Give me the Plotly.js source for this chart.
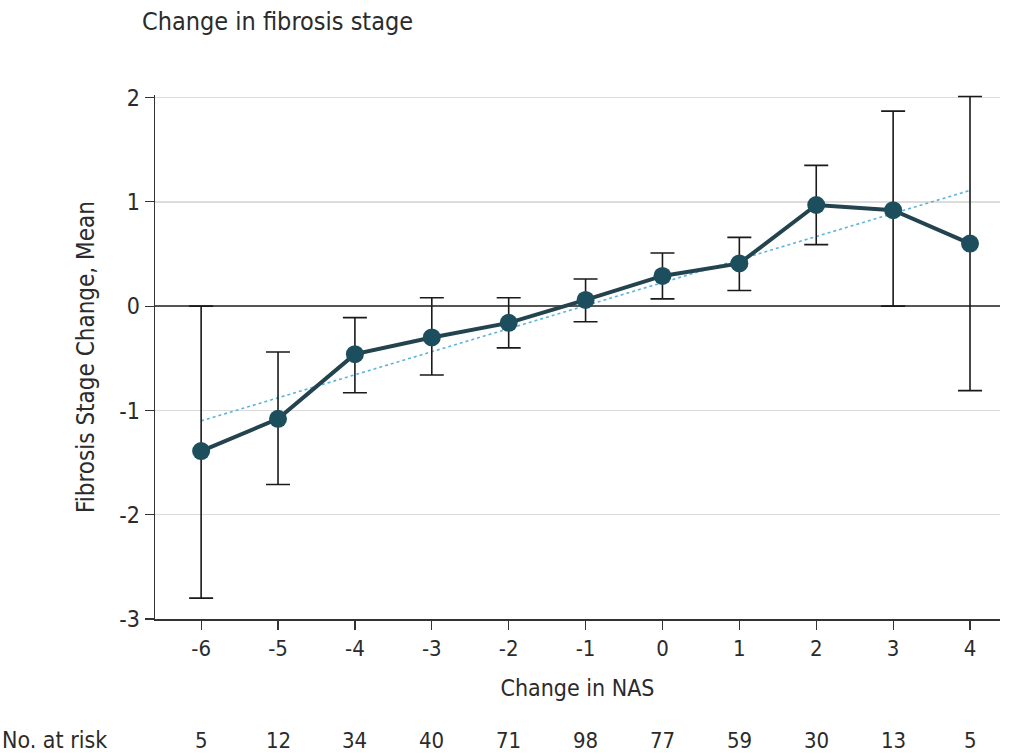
<!DOCTYPE html>
<html>
<head>
<meta charset="utf-8">
<script src="https://cdn.plot.ly/plotly-3.0.1.min.js"></script>
<style>
  html, body { margin: 0; padding: 0; background: #fff; }
  #chart { width: 1025px; height: 754px; }
</style>
</head>
<body>
<div id="chart"></div>
<script>
// Change in NAS (x) against mean change in fibrosis stage, with 95% CI
const nasChange = [-6, -5, -4, -3, -2, -1, 0, 1, 2, 3, 4];
const fibrosisMean = [-1.39, -1.08, -0.46, -0.30, -0.16, 0.06, 0.29, 0.41, 0.97, 0.92, 0.60];
const ciLower = [-2.80, -1.71, -0.83, -0.66, -0.40, -0.15, 0.07, 0.15, 0.59, 0.00, -0.81];
const ciUpper = [0.00, -0.44, -0.11, 0.08, 0.08, 0.26, 0.51, 0.66, 1.35, 1.87, 2.01];
const numberAtRisk = [5, 12, 34, 40, 71, 98, 77, 59, 30, 13, 5];

// Fitted linear trend, end points
const trendX = [-6, 4];
const trendY = [-1.10, 1.11];

const xTickVals = [-6, -5, -4, -3, -2, -1, 0, 1, 2, 3, 4];
const xTickText = ['-6', '-5', '-4', '-3', '-2', '-1', '0', '1', '2', '3', '4'];
const yTickVals = [-3, -2, -1, 0, 1, 2];
const yTickText = ['-3', '-2', '-1', '0', '1', '2'];

const FONT = '"Liberation Sans Narrow", "DejaVu Sans Condensed", "Roboto Condensed", sans-serif';
const TEXT = '#2b2b2b';

const errPlus = fibrosisMean.map((m, i) => ciUpper[i] - m);
const errMinus = fibrosisMean.map((m, i) => m - ciLower[i]);

const traces = [
  {
    x: trendX, y: trendY, type: 'scatter', mode: 'lines',
    line: { color: '#5ab4dc', width: 1.6, dash: 'dot' },
    hoverinfo: 'skip', showlegend: false
  },
  {
    x: nasChange, y: fibrosisMean, type: 'scatter', mode: 'lines+markers',
    line: { color: '#23434f', width: 4 },
    marker: { color: '#1d4e5e', size: 18 },
    cliponaxis: false,
    error_y: {
      type: 'data', symmetric: false, array: errPlus, arrayminus: errMinus,
      color: '#1a1a1a', thickness: 1.6, width: 12
    },
    showlegend: false
  }
];

// plot area: y = 2 sits at 98 px, y = -3 at 619 px; a small headroom keeps the top cap visible
const topPad = 0.025;
const plotTop = 98 - Math.round(topPad * 104.2);
const plotH = 619 - plotTop;
const yPaper = (py) => (619 - py) / plotH;

const riskY = yPaper(740);
const annotations = [
  {
    text: 'Change in fibrosis stage', xref: 'paper', yref: 'paper',
    x: (140 - 155) / 845, y: yPaper(22), xanchor: 'left', yanchor: 'middle',
    showarrow: false, font: { family: FONT, size: 25, color: TEXT }
  },
  {
    text: 'No. at risk', xref: 'paper', yref: 'paper',
    x: -155 / 845, y: riskY, xanchor: 'left', yanchor: 'middle',
    showarrow: false, font: { family: FONT, size: 23, color: TEXT }
  }
];
nasChange.forEach((v, i) => {
  annotations.push({
    text: String(numberAtRisk[i]), xref: 'x', yref: 'paper',
    x: v, y: riskY, xanchor: 'center', yanchor: 'middle',
    showarrow: false, font: { family: FONT, size: 22, color: TEXT }
  });
});

const layout = {
  width: 1025, height: 754,
  margin: { l: 155, r: 25, t: plotTop, b: 135 },
  paper_bgcolor: '#ffffff', plot_bgcolor: '#ffffff',
  font: { family: FONT, size: 21, color: TEXT },
  xaxis: {
    range: [-6.6, 4.39], tickvals: xTickVals, ticktext: xTickText,
    showgrid: false, zeroline: false,
    showline: true, linecolor: '#333', linewidth: 1.5,
    ticks: 'outside', ticklen: 9, tickcolor: '#333', tickwidth: 1.2,
    tickfont: { family: FONT, size: 22, color: TEXT },
    title: { text: 'Change in NAS', font: { family: FONT, size: 23, color: TEXT }, standoff: 20 }
  },
  yaxis: {
    range: [-3, 2 + topPad], tickvals: yTickVals, ticktext: yTickText,
    showgrid: true, gridcolor: '#dcdcdc', gridwidth: 1.5,
    zeroline: true, zerolinecolor: '#555', zerolinewidth: 1.5,
    showline: true, linecolor: '#333', linewidth: 1.5,
    ticks: 'outside', ticklen: 9, tickcolor: '#333', tickwidth: 1.2,
    tickfont: { family: FONT, size: 23, color: TEXT },
    title: { text: 'Fibrosis Stage Change, Mean', font: { family: FONT, size: 24, color: TEXT }, standoff: 18 }
  },
  annotations: annotations
};

Plotly.newPlot('chart', traces, layout, { displayModeBar: false, staticPlot: true });
</script>
</body>
</html>
